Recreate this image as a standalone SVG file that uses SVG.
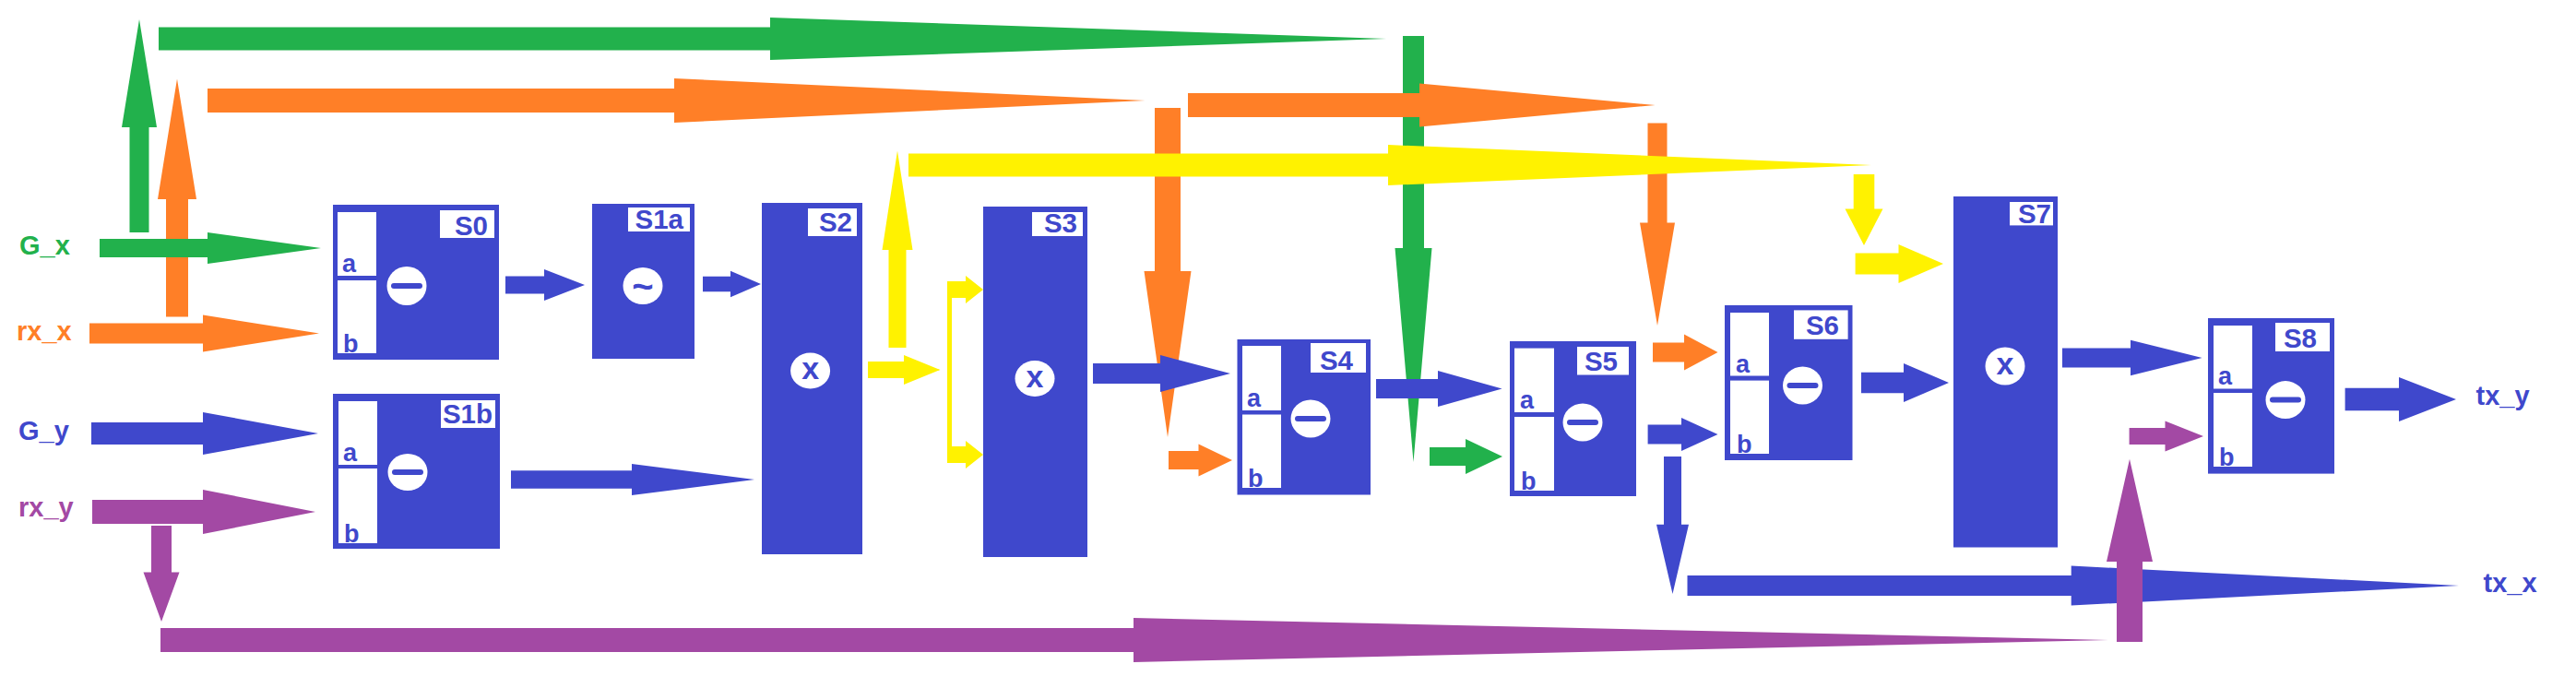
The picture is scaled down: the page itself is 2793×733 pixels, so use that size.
<svg xmlns="http://www.w3.org/2000/svg" width="2793" height="733" viewBox="0 0 2793 733">
<style>
.bl{fill:#3F48CC}.wh{fill:#FFFFFF}.gr{fill:#22B14C}.or{fill:#FF7F27}.ye{fill:#FFF200}.pu{fill:#A349A4}
text{font-family:"Liberation Sans",Arial,sans-serif;font-weight:bold}
.lbl{font-size:29.5px;fill:#3F48CC;text-anchor:end}
.port{font-size:27px;fill:#3F48CC}
.io{font-size:29px}
.sym{font-size:34px;fill:#3F48CC;text-anchor:middle}
.minus{stroke:#3F48CC;stroke-width:6;stroke-linecap:round}
</style>
<rect width="2793" height="733" fill="#FFFFFF"/>
<g id="connectors">
  <polygon class="gr" points="1521,39 1544,39 1544,269 1552.5,269 1532.5,501 1512.5,269 1521,269"/>
  <polygon class="or" points="1288,101 1539,101 1539,90.5 1794.6,114 1539,137.5 1539,127 1288,127"/>
  <polygon class="or" points="225,96 731,96 731,85 1241.5,109 731,133 731,122 225,122"/>
  <polygon class="gr" points="172,29.5 835,29.5 835,19 1503,42 835,65 835,54.5 172,54.5"/>
  <polygon class="or" points="1252,117 1280,117 1280,294 1291.5,294 1266,474 1240.5,294 1252,294"/>
  <polygon class="or" points="1786.5,133.6 1807.5,133.6 1807.5,241.6 1816,241.6 1797,353 1778,241.6 1786.5,241.6"/>
  <polygon class="ye" points="985,166.6 1505,166.6 1505,157 2029,179 1505,201 1505,191.4 985,191.4"/>
  <polygon class="or" points="180,343.5 204,343.5 204,216 213,216 192,85.5 171,216 180,216"/>
  <polygon class="gr" points="140.5,252 161.5,252 161.5,138 170,138 151,21 132,138 140.5,138"/>
  <polygon class="gr" points="108,259 225,259 225,252 348,269 225,286 225,279 108,279"/>
  <polygon class="or" points="97,350.5 220,350.5 220,341.5 346,361.5 220,381.5 220,372.5 97,372.5"/>
  <polygon class="bl" points="99,458 220,458 220,447 345,470 220,493 220,482 99,482"/>
  <polygon class="pu" points="100,542 220,542 220,531 342,555 220,579 220,568 100,568"/>
  <polygon class="pu" points="164,570 186,570 186,620.6 194.5,620.6 175,674 155.5,620.6 164,620.6"/>
  <polygon class="pu" points="174,681 1229,681 1229,670 2286,694 1229,718 1229,707 174,707"/>
  <polygon class="bl" points="548,299.5 590,299.5 590,292 634,309 590,326 590,318.5 548,318.5"/>
  <polygon class="bl" points="762,299.7 792,299.7 792,293.7 825,308 792,322.3 792,316.3 762,316.3"/>
  <polygon class="bl" points="554,510.3 685,510.3 685,503 818,520 685,537 685,529.7 554,529.7"/>
  <polygon class="ye" points="941,392 980,392 980,385 1019.5,401 980,417 980,410 941,410"/>
  <polygon class="ye" points="963.5,377 982.5,377 982.5,271 989.5,271 973,163.5 956.5,271 963.5,271"/>
  <rect class="ye" x="1027" y="305" width="5" height="197"/>
  <polygon class="ye" points="1027,305 1047,305 1047,299 1066,314 1047,329 1047,323 1027,323"/>
  <polygon class="ye" points="1027,484 1047,484 1047,478 1066,493 1047,508 1047,502 1027,502"/>
  <polygon class="or" points="1267,489 1299.5,489 1299.5,481.5 1336,499 1299.5,516.5 1299.5,509 1267,509"/>
  <polygon class="bl" points="1185,394 1258,394 1258,385 1334,405 1258,425 1258,416 1185,416"/>
  <polygon class="bl" points="1492,411 1559,411 1559,402 1628.6,421.6 1559,441 1559,432 1492,432"/>
  <polygon class="gr" points="1550,485 1589,485 1589,476 1629,495 1589,514 1589,505 1550,505"/>
  <polygon class="or" points="1792,371.5 1826,371.5 1826,362.5 1862.5,382 1826,401.5 1826,392.5 1792,392.5"/>
  <polygon class="bl" points="1786.6,460.5 1823,460.5 1823,453 1862.5,471 1823,489 1823,481.5 1786.6,481.5"/>
  <polygon class="bl" points="1804,495 1823,495 1823,568.7 1831,568.7 1813.5,644 1796,568.7 1804,568.7"/>
  <polygon class="bl" points="1829.5,624 2245.7,624 2245.7,613.5 2666,635 2245.7,656.5 2245.7,646 1829.5,646"/>
  <polygon class="bl" points="2018,403.7 2064,403.7 2064,394 2113,415 2064,436 2064,426.3 2018,426.3"/>
  <polygon class="ye" points="2009.7,189 2032.3,189 2032.3,226.6 2041.5,226.6 2021,266 2000.5,226.6 2009.7,226.6"/>
  <polygon class="ye" points="2011.6,274.5 2058.5,274.5 2058.5,265 2107,286 2058.5,307 2058.5,297.5 2011.6,297.5"/>
  <polygon class="bl" points="2236,377.5 2310,377.5 2310,368.7 2387.6,388 2310,407.3 2310,398.5 2236,398.5"/>
  <polygon class="bl" points="2542.6,420.8 2601,420.8 2601,409 2663,433 2601,457 2601,445.2 2542.6,445.2"/>
  <polygon class="pu" points="2295,696 2323,696 2323,609 2334,609 2309,497.7 2284,609 2295,609"/>
  <polygon class="pu" points="2308.6,464 2347.5,464 2347.5,456.5 2389,473 2347.5,489.5 2347.5,482 2308.6,482"/>
</g>
<g id="inputs">
  <text class="io" x="21" y="276" fill="#22B14C">G_x</text>
  <text class="io" x="18" y="369" fill="#FF7F27">rx_x</text>
  <text class="io" x="20" y="477" fill="#3F48CC">G_y</text>
  <text class="io" x="20" y="560" fill="#A349A4">rx_y</text>
  <text class="io" x="2684.5" y="439" fill="#3F48CC">tx_y</text>
  <text class="io" x="2692.5" y="641.6" fill="#3F48CC">tx_x</text>
</g>
<g id="S0">
  <rect class="bl" x="361" y="222" width="180" height="168"/>
  <rect class="wh" x="366" y="230" width="42" height="69"/>
  <rect class="wh" x="366" y="304" width="42" height="79"/>
  <text class="port" x="371" y="295">a</text>
  <text class="port" x="372" y="382">b</text>
  <rect class="wh" x="477" y="228" width="59" height="30"/>
  <text class="lbl" x="529" y="255">S0</text>
  <ellipse class="wh" cx="441" cy="310" rx="21.5" ry="21"/>
  <line class="minus" x1="427" y1="310" x2="455" y2="310"/>
</g>
<g id="S1b">
  <rect class="bl" x="361" y="427" width="181" height="168"/>
  <rect class="wh" x="367" y="435" width="42" height="69"/>
  <rect class="wh" x="367" y="508" width="42" height="81"/>
  <text class="port" x="372" y="500">a</text>
  <text class="port" x="373" y="588">b</text>
  <rect class="wh" x="478" y="434" width="59" height="30"/>
  <text class="lbl" x="534" y="459">S1b</text>
  <ellipse class="wh" cx="442" cy="512" rx="21.5" ry="20"/>
  <line class="minus" x1="428" y1="512" x2="456" y2="512"/>
</g>
<g id="S1a">
  <rect class="bl" x="642" y="221" width="111" height="168"/>
  <rect class="wh" x="681" y="225" width="67" height="26"/>
  <text class="lbl" x="741" y="248">S1a</text>
  <ellipse class="wh" cx="697" cy="310" rx="21.5" ry="20"/>
  <text class="sym" x="697" y="324" style="font-size:40px">~</text>
</g>
<g id="S2">
  <rect class="bl" x="826" y="220" width="109" height="381"/>
  <rect class="wh" x="876" y="226" width="53" height="30"/>
  <text class="lbl" x="924" y="251">S2</text>
  <ellipse class="wh" cx="878.6" cy="402" rx="21.5" ry="19.5"/>
  <text class="sym" x="878.6" y="411">x</text>
</g>
<g id="S3">
  <rect class="bl" x="1066" y="224" width="113" height="380"/>
  <rect class="wh" x="1119" y="230" width="55" height="26"/>
  <text class="lbl" x="1168" y="252">S3</text>
  <ellipse class="wh" cx="1122" cy="410.5" rx="21.5" ry="19.5"/>
  <text class="sym" x="1122" y="419.5">x</text>
</g>
<g id="S4">
  <rect class="bl" x="1341.5" y="368" width="144.5" height="168.5"/>
  <rect class="wh" x="1347" y="375" width="42" height="70"/>
  <rect class="wh" x="1347" y="449.5" width="42" height="79.5"/>
  <text class="port" x="1352" y="441">a</text>
  <text class="port" x="1353" y="528">b</text>
  <rect class="wh" x="1421" y="372" width="60" height="32"/>
  <text class="lbl" x="1467" y="401">S4</text>
  <ellipse class="wh" cx="1421" cy="454" rx="21.5" ry="20.5"/>
  <line class="minus" x1="1407" y1="454" x2="1435" y2="454"/>
</g>
<g id="S5">
  <rect class="bl" x="1637" y="370" width="137" height="168"/>
  <rect class="wh" x="1642" y="377.6" width="43" height="69.4"/>
  <rect class="wh" x="1642" y="452" width="43" height="80"/>
  <text class="port" x="1648" y="443">a</text>
  <text class="port" x="1649" y="531">b</text>
  <rect class="wh" x="1710" y="376" width="56" height="30.5"/>
  <text class="lbl" x="1754" y="402">S5</text>
  <ellipse class="wh" cx="1716" cy="458" rx="21.5" ry="20.5"/>
  <line class="minus" x1="1702" y1="458" x2="1730" y2="458"/>
</g>
<g id="S6">
  <rect class="bl" x="1870" y="331" width="138.5" height="168"/>
  <rect class="wh" x="1876" y="339" width="42" height="68.5"/>
  <rect class="wh" x="1876" y="412.6" width="42" height="79.4"/>
  <text class="port" x="1882" y="403.5">a</text>
  <text class="port" x="1883" y="491">b</text>
  <rect class="wh" x="1945" y="336.4" width="58.6" height="31.4"/>
  <text class="lbl" x="1994" y="363">S6</text>
  <ellipse class="wh" cx="1954.5" cy="418" rx="21.5" ry="20.5"/>
  <line class="minus" x1="1940.5" y1="418" x2="1968.5" y2="418"/>
</g>
<g id="S7">
  <rect class="bl" x="2118" y="213" width="113" height="380.5"/>
  <rect class="wh" x="2179" y="219" width="47" height="25.4"/>
  <text class="lbl" x="2224" y="242">S7</text>
  <ellipse class="wh" cx="2174" cy="397" rx="21.5" ry="20.5"/>
  <text class="sym" x="2174" y="406">x</text>
</g>
<g id="S8">
  <rect class="bl" x="2394" y="345" width="137" height="168.6"/>
  <rect class="wh" x="2400" y="353" width="42" height="68.5"/>
  <rect class="wh" x="2400" y="426" width="42" height="80"/>
  <text class="port" x="2405" y="417">a</text>
  <text class="port" x="2406" y="505">b</text>
  <rect class="wh" x="2467" y="350" width="59" height="31"/>
  <text class="lbl" x="2512" y="377">S8</text>
  <ellipse class="wh" cx="2478" cy="433.6" rx="21.5" ry="20.5"/>
  <line class="minus" x1="2464" y1="433.6" x2="2492" y2="433.6"/>
</g>
</svg>
